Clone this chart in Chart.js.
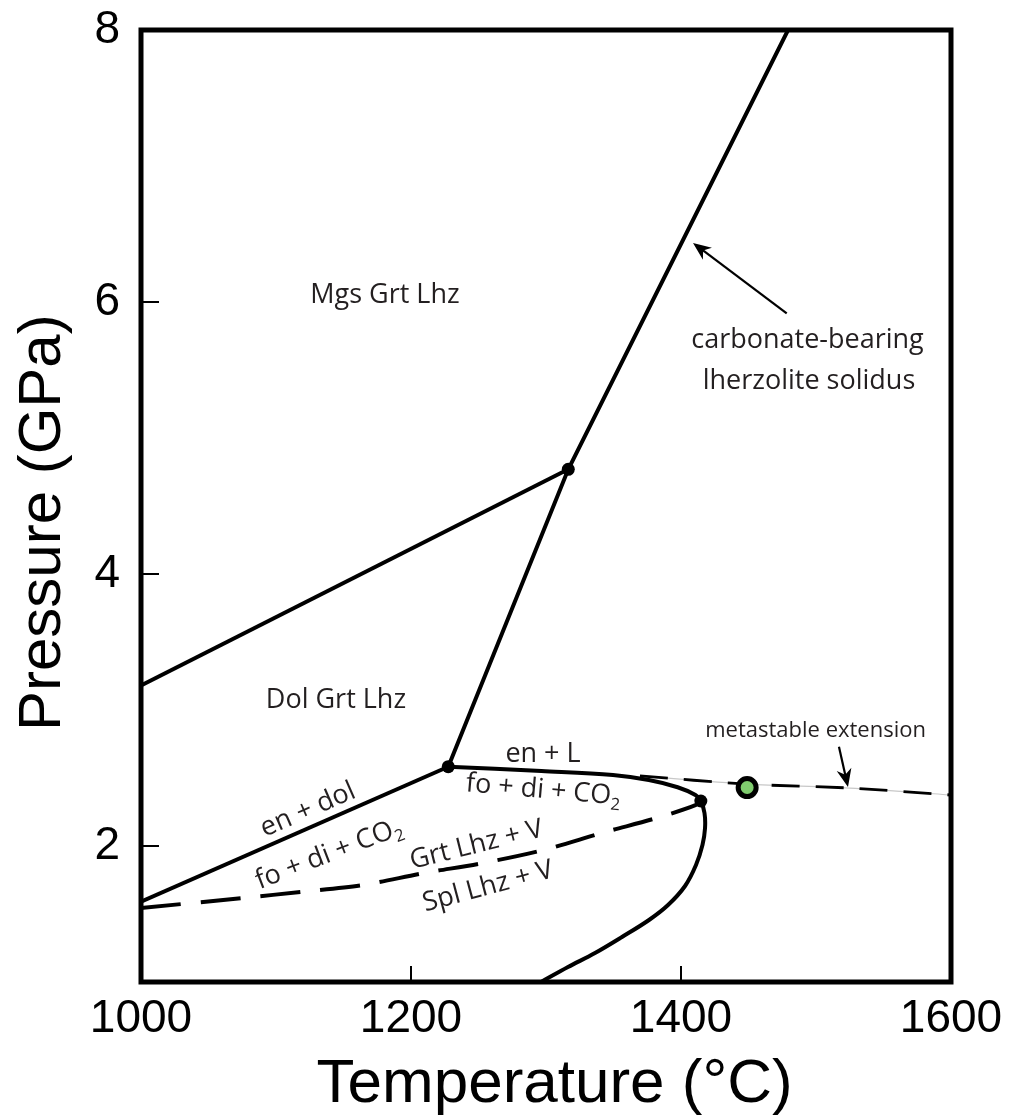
<!DOCTYPE html>
<html>
<head>
<meta charset="utf-8">
<script src="https://cdn.jsdelivr.net/npm/chart.js@4.4.1/dist/chart.umd.min.js"></script>
<style>
html,body{margin:0;padding:0;background:#fff;}
#wrap{width:1017px;height:1118px;}
</style>
</head>
<body>
<div id="wrap"><canvas id="c" width="1017" height="1118"></canvas></div>
<script>
// ---------- axis ticks ----------
const xTickValues = [1000, 1200, 1400, 1600];
const yTickValues = [2, 4, 6, 8];

// ---------- phase boundaries (T in °C, P in GPa) ----------
// Mgs Grt Lhz / Dol Grt Lhz
const mgsDolT = [1000, 1316.5];
const mgsDolP = [3.18, 4.77];
// carbonate-bearing lherzolite solidus
const solidusT = [1227.6, 1316.5, 1479.3];
const solidusP = [2.583, 4.77, 8.0];
// en + dol = fo + di + CO2
const enDolT = [1000, 1227.6];
const enDolP = [1.59, 2.583];
// en + L = fo + di + CO2 (with lower branch)
const enLT = [1227.6, 1296.6, 1349.6, 1376.2, 1397.5, 1410.7, 1414.7, 1417.4, 1417.8, 1415.9, 1411.1, 1403.0, 1390.4, 1376.3, 1356.3, 1336.3, 1316.3, 1296.3];
const enLP = [2.583, 2.551, 2.522, 2.485, 2.432, 2.375, 2.331, 2.243, 2.132, 2.007, 1.860, 1.706, 1.566, 1.456, 1.331, 1.213, 1.110, 1.0];
// Grt Lhz + V / Spl Lhz + V
const grtSplT = [1000, 1075.6, 1120, 1164.4, 1208.9, 1253.3, 1297.8, 1341.5, 1385.2, 1410.7, 1414.7];
const grtSplP = [1.544, 1.618, 1.664, 1.713, 1.80, 1.875, 1.97, 2.096, 2.215, 2.30, 2.331];
// metastable extension
const metaT = [1369.6, 1449, 1525, 1600];
const metaP = [2.515, 2.455, 2.426, 2.375];
// invariant points
const invT = [1227.6, 1316.5, 1414.7];
const invP = [2.583, 4.77, 2.331];
// experimental point
const sampleT = [1449];
const sampleP = [2.43];

// ---------- annotation text ----------
const labelTexts = [
  [{t:'Mgs Grt Lhz'}],
  [{t:'Dol Grt Lhz'}],
  [{t:'carbonate-bearing'}],
  [{t:'lherzolite solidus'}],
  [{t:'metastable extension'}],
  [{t:'en + L'}],
  [{t:'fo + di + CO'},{t:'2',sub:true}],
  [{t:'en + dol'}],
  [{t:'fo + di + CO'},{t:'2',sub:true}],
  [{t:'Grt Lhz + V'}],
  [{t:'Spl Lhz + V'}]
];
const labelAnchorsT = [1180.7, 1144.4, 1493.7, 1494.8, 1499.7, 1297.8, 1298.0, 1123.7, 1139.3, 1248.5, 1257.0];
const labelAnchorsP = [6.05, 3.07, 5.72, 5.42, 2.85, 2.676, 2.41, 2.265, 1.94, 2.007, 1.70];

function pairs(T, P) { return T.map((t, i) => ({x: t, y: P[i]})); }

const labelStyle = {
  rot:  [0, 0, 0, 0, 0, 0, 5, -23.5, -21, -14, -15],
  size: [27, 27, 27, 27, 22, 27, 27, 27, 27, 27, 27]
};
// arrows: [tailT, tailP, tipT, tipP]
const arrowDefs = [
  [1478.3, 5.917, 1408.9, 6.434],
  [1517.0, 2.73, 1523.7, 2.434]
];

const TXT = '#231f20';
const FONT = "'Open Sans', 'Noto Sans', sans-serif";
const AXFONT = "'Liberation Sans', Arial, sans-serif";

function drawParts(ctx, parts, size) {
  let total = 0;
  const widths = parts.map(p => {
    ctx.font = (p.sub ? size * 0.62 : size) + 'px ' + FONT;
    const w = ctx.measureText(p.t).width;
    total += w;
    return w;
  });
  let x = -total / 2;
  parts.forEach((p, i) => {
    ctx.font = (p.sub ? size * 0.62 : size) + 'px ' + FONT;
    ctx.fillText(p.t, x, p.sub ? size * 0.32 : 0);
    x += widths[i];
  });
}

const decorPlugin = {
  id: 'decor',
  afterDatasetsDraw(chart) {
    const {ctx, chartArea: a, scales: {x, y}} = chart;
    ctx.save();
    // frame
    ctx.strokeStyle = '#000';
    ctx.lineWidth = 5;
    ctx.strokeRect(a.left, a.top, a.right - a.left, a.bottom - a.top);
    // inward ticks
    ctx.lineWidth = 2;
    xTickValues.forEach(v => {
      if (v === x.min || v === x.max) return;
      const px = x.getPixelForValue(v);
      ctx.beginPath(); ctx.moveTo(px, a.bottom); ctx.lineTo(px, a.bottom - 16); ctx.stroke();
    });
    yTickValues.forEach(v => {
      if (v === y.min || v === y.max) return;
      const py = y.getPixelForValue(v);
      ctx.beginPath(); ctx.moveTo(a.left, py); ctx.lineTo(a.left + 18, py); ctx.stroke();
    });
    // arrows
    ctx.fillStyle = '#000';
    arrowDefs.forEach(d => {
      const x0 = x.getPixelForValue(d[0]), y0 = y.getPixelForValue(d[1]);
      const x1 = x.getPixelForValue(d[2]), y1 = y.getPixelForValue(d[3]);
      const ang = Math.atan2(y1 - y0, x1 - x0);
      const L = 18, W = 7.5;
      ctx.lineWidth = 2.2;
      ctx.beginPath(); ctx.moveTo(x0, y0);
      ctx.lineTo(x1 - Math.cos(ang) * 10, y1 - Math.sin(ang) * 10); ctx.stroke();
      ctx.save();
      ctx.translate(x1, y1); ctx.rotate(ang);
      ctx.beginPath();
      ctx.moveTo(0, 0); ctx.lineTo(-L, -W); ctx.lineTo(-L * 0.7, 0); ctx.lineTo(-L, W);
      ctx.closePath(); ctx.fill();
      ctx.restore();
    });
    // labels
    ctx.fillStyle = TXT;
    ctx.textBaseline = 'middle';
    ctx.textAlign = 'left';
    labelTexts.forEach((parts, i) => {
      const px = x.getPixelForValue(labelAnchorsT[i]);
      const py = y.getPixelForValue(labelAnchorsP[i]);
      ctx.save();
      ctx.translate(px, py);
      ctx.rotate(labelStyle.rot[i] * Math.PI / 180);
      drawParts(ctx, parts, labelStyle.size[i]);
      ctx.restore();
    });
    ctx.restore();
  }
};

const lineBase = {showLine: true, pointRadius: 0, pointHoverRadius: 0, borderColor: '#000', fill: false};

new Chart(document.getElementById('c'), {
  type: 'scatter',
  data: {
    datasets: [
      {data: pairs(sampleT, sampleP), pointRadius: 9, pointBackgroundColor: '#7fcc6e', pointBorderColor: '#000', pointBorderWidth: 5, showLine: false},
      {data: pairs(invT, invP), pointRadius: 6.5, pointBackgroundColor: '#000', pointBorderColor: '#000', pointBorderWidth: 0, showLine: false},
      Object.assign({}, lineBase, {data: pairs(mgsDolT, mgsDolP), borderWidth: 4}),
      Object.assign({}, lineBase, {data: pairs(solidusT, solidusP), borderWidth: 4}),
      Object.assign({}, lineBase, {data: pairs(enDolT, enDolP), borderWidth: 4}),
      Object.assign({}, lineBase, {data: pairs(enLT, enLP), borderWidth: 4, tension: 0.35}),
      Object.assign({}, lineBase, {data: pairs(grtSplT, grtSplP), borderWidth: 4, tension: 0.3, borderDash: [40, 20]}),
      Object.assign({}, lineBase, {data: pairs(metaT, metaP), borderWidth: 2.8, tension: 0.3, borderDash: [28, 16]}),
      Object.assign({}, lineBase, {data: pairs(metaT, metaP), borderWidth: 1.2, tension: 0.3, borderColor: '#c8c8c8'})
    ]
  },
  options: {
    responsive: false,
    animation: false,
    events: [],
    layout: {padding: {top: 30, right: 66, left: 0, bottom: 0}},
    plugins: {legend: {display: false}, tooltip: {enabled: false}},
    scales: {
      x: {
        type: 'linear', min: 1000, max: 1600,
        afterBuildTicks: s => { s.ticks = xTickValues.map(v => ({value: v})); },
        afterFit: s => { s.height = 136; s.paddingLeft = 0; s.paddingRight = 0; },
        grid: {display: false, drawTicks: false},
        border: {display: false},
        ticks: {color: '#000', padding: 14, maxRotation: 0, autoSkip: false,
                callback: v => String(v),
                font: {family: AXFONT, size: 46, lineHeight: 1}},
        title: {display: true, text: ' Temperature (°C)', color: '#000', padding: {top: 0, bottom: 2},
                font: {family: AXFONT, size: 62, lineHeight: 1}}
      },
      y: {
        type: 'linear', min: 1, max: 8,
        afterBuildTicks: s => { s.ticks = yTickValues.map(v => ({value: v})); },
        afterFit: s => { s.width = 141; s.paddingTop = 0; s.paddingBottom = 0; },
        grid: {display: false, drawTicks: false},
        border: {display: false},
        ticks: {color: '#000', padding: 21, autoSkip: false,
                callback: v => String(v),
                font: {family: AXFONT, size: 46, lineHeight: 1}},
        title: {display: true, text: 'Pressure (GPa)  ', color: '#000', padding: {top: 13, bottom: 0},
                font: {family: AXFONT, size: 60, lineHeight: 1}}
      }
    }
  },
  plugins: [decorPlugin]
});
</script>
</body>
</html>
